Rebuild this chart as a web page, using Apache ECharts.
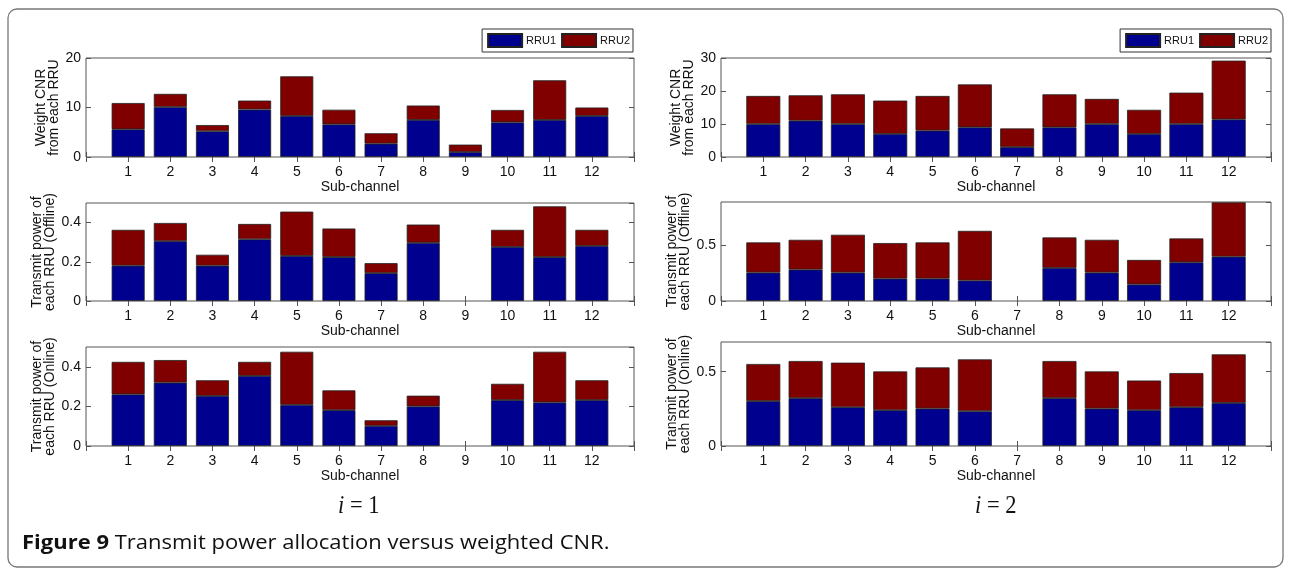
<!DOCTYPE html>
<html><head><meta charset="utf-8">
<script src="https://cdn.jsdelivr.net/npm/echarts@6/dist/echarts.min.js"></script>
<style>html,body{margin:0;padding:0;background:#fff}#c{width:1291px;height:570px}</style>
</head><body><div id="c"></div><script>
// ---------------- data ----------------
const categories = [1, 2, 3, 4, 5, 6, 7, 8, 9, 10, 11, 12];
const seriesNames = ['RRU1', 'RRU2'];

// i = 1
const i1_cnr_rru1     = [5.6, 10.1, 5.2, 9.6, 8.3, 6.6, 2.7, 7.5, 1.0, 7.0, 7.5, 8.3];
const i1_cnr_rru2     = [5.3, 2.65, 1.25, 1.8, 8.0, 2.95, 2.1, 2.9, 1.5, 2.5, 8.0, 1.7];
const i1_offline_rru1 = [0.18, 0.305, 0.18, 0.315, 0.23, 0.224, 0.142, 0.297, 0, 0.276, 0.224, 0.281];
const i1_offline_rru2 = [0.183, 0.093, 0.056, 0.078, 0.226, 0.146, 0.051, 0.093, 0, 0.087, 0.259, 0.082];
const i1_online_rru1  = [0.261, 0.32, 0.253, 0.354, 0.208, 0.181, 0.102, 0.2, 0, 0.232, 0.22, 0.232];
const i1_online_rru2  = [0.164, 0.114, 0.079, 0.071, 0.268, 0.1, 0.028, 0.054, 0, 0.082, 0.256, 0.1];

// i = 2
const i2_cnr_rru1     = [10, 11, 10, 7, 8, 9, 3, 9, 10, 7, 10, 11.4];
const i2_cnr_rru2     = [8.5, 7.7, 9.0, 10.1, 10.5, 13.0, 5.65, 10.0, 7.6, 7.3, 9.5, 17.8];
const i2_offline_rru1 = [0.254, 0.281, 0.254, 0.2, 0.2, 0.183, 0, 0.296, 0.254, 0.148, 0.346, 0.396];
const i2_offline_rru2 = [0.27, 0.266, 0.338, 0.318, 0.324, 0.444, 0, 0.272, 0.293, 0.219, 0.213, 0.486];
const i2_online_rru1  = [0.302, 0.322, 0.261, 0.241, 0.252, 0.234, 0, 0.322, 0.252, 0.241, 0.261, 0.29];
const i2_online_rru2  = [0.25, 0.25, 0.3, 0.261, 0.277, 0.349, 0, 0.25, 0.25, 0.2, 0.23, 0.327];

// axis texts
const xAxisTitle = 'Sub-channel';
const yTitleCnr = 'Weight CNR\nfrom each RRU';
const yTitleOffline = 'Transmit power of\neach RRU (Offline)';
const yTitleOnline = 'Transmit power of\neach RRU (Online)';
const subLabel1 = ['i', ' = 1'];
const subLabel2 = ['i', ' = 2'];
const captionBold = 'Figure 9';
const captionText = ' Transmit power allocation versus weighted CNR.';

// ---------------- layout ----------------
const panels = [
  {rru1: i1_cnr_rru1, rru2: i1_cnr_rru2, yName: yTitleCnr, max: 20, interval: 10, showMax: true,
   grid: {left: 86, top: 58, width: 548, height: 99}, barWidth: 33},
  {rru1: i1_offline_rru1, rru2: i1_offline_rru2, yName: yTitleOffline, max: 0.5, interval: 0.2, showMax: false,
   grid: {left: 86, top: 203, width: 548, height: 98}, barWidth: 33},
  {rru1: i1_online_rru1, rru2: i1_online_rru2, yName: yTitleOnline, max: 0.5, interval: 0.2, showMax: false,
   grid: {left: 86, top: 347, width: 548, height: 99}, barWidth: 33},
  {rru1: i2_cnr_rru1, rru2: i2_cnr_rru2, yName: yTitleCnr, max: 30, interval: 10, showMax: true,
   grid: {left: 721, top: 58, width: 550, height: 99}, barWidth: 34},
  {rru1: i2_offline_rru1, rru2: i2_offline_rru2, yName: yTitleOffline, max: 0.885, interval: 0.5, showMax: false,
   grid: {left: 721, top: 202, width: 550, height: 99}, barWidth: 34},
  {rru1: i2_online_rru1, rru2: i2_online_rru2, yName: yTitleOnline, max: 0.7, interval: 0.5, showMax: false,
   grid: {left: 721, top: 342, width: 550, height: 104}, barWidth: 34}
];

const colRRU1 = '#00008F';
const colRRU2 = '#800000';
const axisCol = '#555';
const font = 'Liberation Sans, Arial, sans-serif';

// category positions 0..13 with empty end slots so that the axis spans [0, 13]
const axisCats = [''].concat(categories.map(String), ['']);

const grids = [], xAxes = [], yAxes = [], series = [];
panels.forEach((p, k) => {
  grids.push(Object.assign({show: true, borderColor: axisCol, borderWidth: 1, containLabel: false}, p.grid));
  const tick = {show: true, inside: true, length: 5, interval: 0, lineStyle: {color: axisCol, width: 1}};
  xAxes.push({
    type: 'category', gridIndex: k, data: axisCats, boundaryGap: false,
    axisLine: {show: false}, splitLine: {show: false}, axisTick: tick,
    axisLabel: {fontFamily: font, fontSize: 14, color: '#111', margin: 8, interval: 0},
    name: xAxisTitle, nameLocation: 'middle', nameGap: 22,
    nameTextStyle: {fontFamily: font, fontSize: 14, color: '#111'}
  });
  xAxes.push({
    type: 'category', gridIndex: k, position: 'top', data: axisCats, boundaryGap: false,
    axisLine: {show: false}, splitLine: {show: false}, axisTick: tick, axisLabel: {show: false}
  });
  yAxes.push({
    type: 'value', gridIndex: k, min: 0, max: p.max, interval: p.interval,
    axisLine: {show: false}, splitLine: {show: false}, axisTick: {show: true, inside: true, length: 5, lineStyle: {color: axisCol}},
    axisLabel: {fontFamily: font, fontSize: 14, color: '#111', margin: 5, showMaxLabel: p.showMax},
    name: p.yName, nameLocation: 'middle', nameGap: 25, nameRotate: 90,
    nameTextStyle: {fontFamily: font, fontSize: 14, color: '#111', lineHeight: 13, align: 'center'}
  });
  yAxes.push({
    type: 'value', gridIndex: k, position: 'right', min: 0, max: p.max, interval: p.interval,
    axisLine: {show: false}, splitLine: {show: false},
    axisTick: {show: true, inside: true, length: 5, lineStyle: {color: axisCol}}, axisLabel: {show: false}
  });
  [p.rru1, p.rru2].forEach((arr, s) => {
    series.push({
      type: 'bar', name: seriesNames[s], stack: 'p' + k,
      xAxisIndex: 2 * k, yAxisIndex: 2 * k, barWidth: p.barWidth,
      itemStyle: {color: s === 0 ? colRRU1 : colRRU2, borderColor: '#222', borderWidth: 0.8},
      emphasis: {disabled: true}, animation: false,
      data: ['-'].concat(arr.map(v => v === 0 ? '-' : v), ['-'])
    });
  });
});

const legendBase = {
  orient: 'horizontal', top: 29, itemWidth: 34, itemHeight: 13, itemGap: 5, icon: 'rect',
  padding: [4, 3, 4, 5], borderColor: '#333', borderWidth: 1, backgroundColor: '#fff',
  textStyle: {fontFamily: font, fontSize: 11, color: '#111', padding: [0, 0, 0, -1]},
  data: seriesNames, selectedMode: false
};

const iRich = {
  it: {fontFamily: 'Liberation Serif', fontStyle: 'italic', fontSize: 25, fill: '#111'},
  r: {fontFamily: 'Liberation Serif', fontSize: 25, fill: '#111'}
};

const option = {
  animation: false,
  backgroundColor: '#fff',
  grid: grids, xAxis: xAxes, yAxis: yAxes, series: series,
  legend: [
    Object.assign({}, legendBase, {right: 1291 - 633}),
    Object.assign({}, legendBase, {right: 1291 - 1271})
  ],
  graphic: [
    {type: 'rect', shape: {x: 8, y: 9, width: 1275, height: 558, r: 9}, z: -10,
     style: {fill: 'none', stroke: '#777', lineWidth: 1.3}},
    {type: 'text', x: 338, y: 506, scaleX: 0.9, style: {
      text: '{it|' + subLabel1[0] + '}{r|' + subLabel1[1] + '}', verticalAlign: 'middle', rich: iRich}},
    {type: 'text', x: 975, y: 506, scaleX: 0.9, style: {
      text: '{it|' + subLabel2[0] + '}{r|' + subLabel2[1] + '}', verticalAlign: 'middle', rich: iRich}},
    {type: 'text', x: 22, y: 543, scaleX: 1.1, style: {
      text: '{b|' + captionBold + '}{r|' + captionText + '}', verticalAlign: 'middle',
      rich: {b: {fontFamily: 'Open Sans', fontWeight: 'bold', fontSize: 20, fill: '#111'},
             r: {fontFamily: 'Open Sans', fontSize: 20, fill: '#111'}}}}
  ]
};

const chart = echarts.init(document.getElementById('c'), null, {renderer: 'canvas'});
chart.setOption(option);
</script></body></html>
